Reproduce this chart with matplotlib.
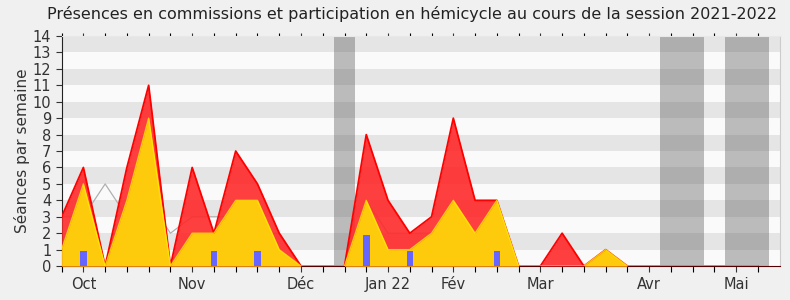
import matplotlib
matplotlib.use('Agg')
import matplotlib.pyplot as plt

# weekly values, session 2021-2022
weeks = list(range(33))
total = [3, 6, 0, 6, 11, 0, 6, 2, 7, 5, 2, 0, 0, 0, 8, 4, 2, 3, 9, 4, 4, 0, 0, 2, 0, 1, 0, 0, 0, 0, 0, 0, 0]
commissions = [1, 5, 0, 4, 9, 0, 2, 2, 4, 4, 1, 0, 0, 0, 4, 1, 1, 2, 4, 2, 4, 0, 0, 0, 0, 1, 0, 0, 0, 0, 0, 0, 0]
mediane = [3, 3, 5, 3, 4, 2, 3, 3, 3, 2, 2, 0, 0, 0, 4, 2, 2, 2, 3, 2, 3, 0, 0, 0, 0, 0, 0, 0, 0, 0, 0, 0, 0]
question_weeks = [1, 7, 9, 14, 16, 20]
questions = [0.9, 0.9, 0.9, 1.9, 0.9, 0.9]
vacances = [(12.5, 13.5), (27.5, 29.5), (30.5, 32.5)]
month_pos = [1, 6, 11, 15, 18, 22, 27, 31]
month_lab = ['Oct', 'Nov', 'Déc', 'Jan 22', 'Fév', 'Mar', 'Avr', 'Mai']

fig = plt.figure(figsize=(7.9, 3.0), dpi=100, facecolor='#f0f0f0')
ax = fig.add_axes([0.078, 0.113, 0.909, 0.767])
ax.set_facecolor('#fafafa')

for k in range(1, 14, 2):
    ax.axhspan(k, k + 1, color='#e5e5e5', lw=0, zorder=0)
for a, b in vacances:
    ax.axvspan(a, b, color='#555555', alpha=0.38, lw=0, zorder=1)

ax.plot(weeks, mediane, color='#b0b0b0', lw=0.9, zorder=2)
ax.fill_between(weeks, total, color='#ff2a2a', alpha=0.9, lw=0, zorder=3)
ax.plot(weeks, total, color='#ff0000', lw=1.3, zorder=4)
ax.fill_between(weeks, commissions, color='#ffd40a', alpha=0.95, lw=0, zorder=5)
ax.plot(weeks, commissions, color='#ffee00', lw=1.0, alpha=0.8, zorder=6)
ax.bar(question_weeks, questions, width=0.3, color='#6666ff', zorder=7)

ax.set_xlim(0, 33)
ax.set_ylim(0, 14)
ax.set_yticks(range(15))
ax.set_xticks(weeks, minor=True)
ax.set_xticks(month_pos)
ax.set_xticklabels(month_lab)
ax.tick_params(axis='both', labelsize=10.5, colors='#333333', length=4, width=0.8)
ax.tick_params(axis='x', which='minor', length=4, width=0.8)
ax.tick_params(axis='x', which='both', top=True)
ax.xaxis.set_tick_params(which='both', width=0.8)
for t in ax.xaxis.get_major_ticks() + ax.xaxis.get_minor_ticks():
    t.tick2line.set_markersize(2)
ax.set_ylabel('Séances par semaine', fontsize=11, color='#333333', labelpad=2)

ax.spines['left'].set_color('#222222')
ax.spines['bottom'].set_color('#550000')
ax.spines['right'].set_color('#cccccc')
ax.spines['top'].set_color('#e8e8e8')

fig.text(0.522, 0.955, 'Présences en commissions et participation en hémicycle au cours de la session 2021-2022',
         ha='center', va='center', fontsize=11.5, color='#222222')

fig.savefig('out.png', dpi=100, facecolor=fig.get_facecolor())
